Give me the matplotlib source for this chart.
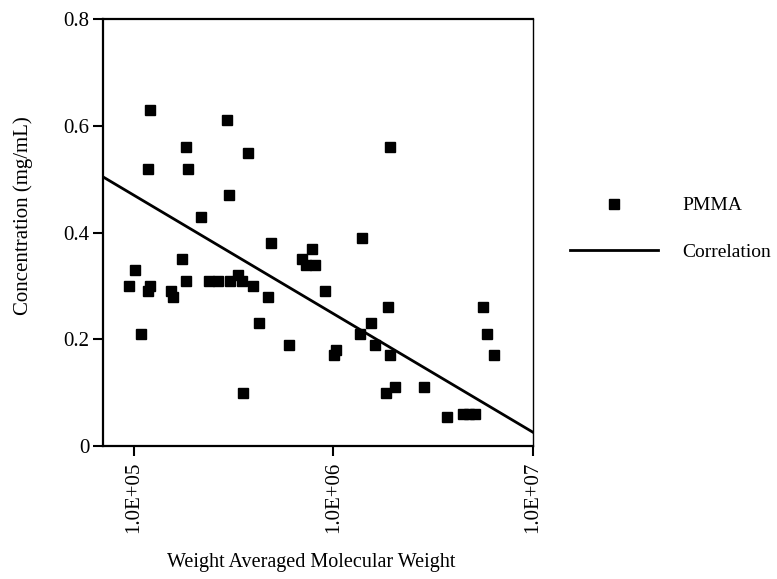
import numpy as np
import matplotlib
matplotlib.use("Agg")
import matplotlib.pyplot as plt
from matplotlib.lines import Line2D

plt.rcParams["font.family"] = ["Liberation Serif", "DejaVu Serif"]

# PMMA samples: weight averaged molecular weight and concentration (mg/mL)
mol_weight = [
    1.20e5, 2.91e5, 1.82e5, 3.71e5, 1.17e5, 1.86e5, 2.99e5, 2.18e5,
    9.4e4, 1.01e5, 1.09e5, 1.18e5, 1.21e5, 1.53e5, 1.57e5, 1.74e5,
    1.83e5, 2.37e5, 2.64e5, 3.04e5, 3.32e5, 3.48e5, 3.93e5, 4.68e5,
    4.22e5, 4.88e5, 3.54e5, 5.97e5, 6.98e5, 7.83e5, 7.31e5, 8.05e5,
    1.39e6, 9.12e5, 1.87e6, 1.54e6, 1.36e6, 1.62e6, 1.92e6, 1.01e6,
    1.03e6, 2.03e6, 1.84e6, 2.84e6, 3.72e6, 4.44e6, 4.75e6, 5.09e6,
    5.64e6, 5.89e6, 6.35e6, 1.91e6,
]
concentration = [
    0.63, 0.61, 0.56, 0.55, 0.52, 0.52, 0.47, 0.43,
    0.30, 0.33, 0.21, 0.29, 0.30, 0.29, 0.28, 0.35,
    0.31, 0.31, 0.31, 0.31, 0.32, 0.31, 0.30, 0.28,
    0.23, 0.38, 0.10, 0.19, 0.35, 0.37, 0.34, 0.34,
    0.39, 0.29, 0.26, 0.23, 0.21, 0.19, 0.17, 0.17,
    0.18, 0.11, 0.10, 0.11, 0.055, 0.06, 0.06, 0.06,
    0.26, 0.21, 0.17, 0.56,
]

# correlation: c = intercept + slope * log10(Mw)
corr_intercept = 1.5804
corr_slope = -0.2221

x_ticks = [1e5, 1e6, 1e7]
x_tick_labels = ["1.0E+05", "1.0E+06", "1.0E+07"]
y_ticks = [0, 0.2, 0.4, 0.6, 0.8]
y_tick_labels = ["0", "0.2", "0.4", "0.6", "0.8"]

fig = plt.figure(figsize=(7.77, 5.79), dpi=100)
ax = fig.add_axes([0.1326, 0.2297, 0.686 - 0.1326, 0.967 - 0.2297])

ax.plot(mol_weight, concentration, linestyle="none", marker="s",
        markersize=7.3, color="black", label="PMMA")

xmin, xmax = 7.0e4, 1.0e7
line_x = np.array([xmin, xmax])
line_y = corr_intercept + corr_slope * np.log10(line_x)
ax.plot(line_x, line_y, color="black", linewidth=2, label="Correlation")

ax.set_xscale("log")
ax.set_xlim(xmin, xmax)
ax.set_ylim(0, 0.8)
ax.set_xticks(x_ticks)
ax.set_xticklabels(x_tick_labels, rotation=90, fontsize=15)
ax.xaxis.set_minor_locator(plt.NullLocator())
ax.set_yticks(y_ticks)
ax.set_yticklabels(y_tick_labels, fontsize=15)
ax.tick_params(axis="x", direction="out", length=7, width=1.5, pad=4)
ax.tick_params(axis="y", direction="out", length=7, width=1.5, pad=3)
for s in ax.spines.values():
    s.set_linewidth(1.6)
ax.spines["right"].set_linewidth(1.0)

ax.set_ylabel("Concentration (mg/mL)", fontsize=15)
ax.yaxis.set_label_coords(-0.163, 0.54)
fig.text(0.401, 0.012, "Weight Averaged Molecular Weight", fontsize=14.5,
         ha="center", va="bottom")

handles = [
    Line2D([], [], linestyle="none", marker="s", markersize=7, color="black"),
    Line2D([], [], color="black", linewidth=2),
]
fig.legend(handles, ["PMMA", "Correlation"], loc="upper left",
           bbox_to_anchor=(0.734, 0.66), frameon=False, fontsize=14,
           borderpad=0, borderaxespad=0, handlelength=4.5,
           handletextpad=1.24, labelspacing=1.47)

fig.savefig("out.png", dpi=100)
